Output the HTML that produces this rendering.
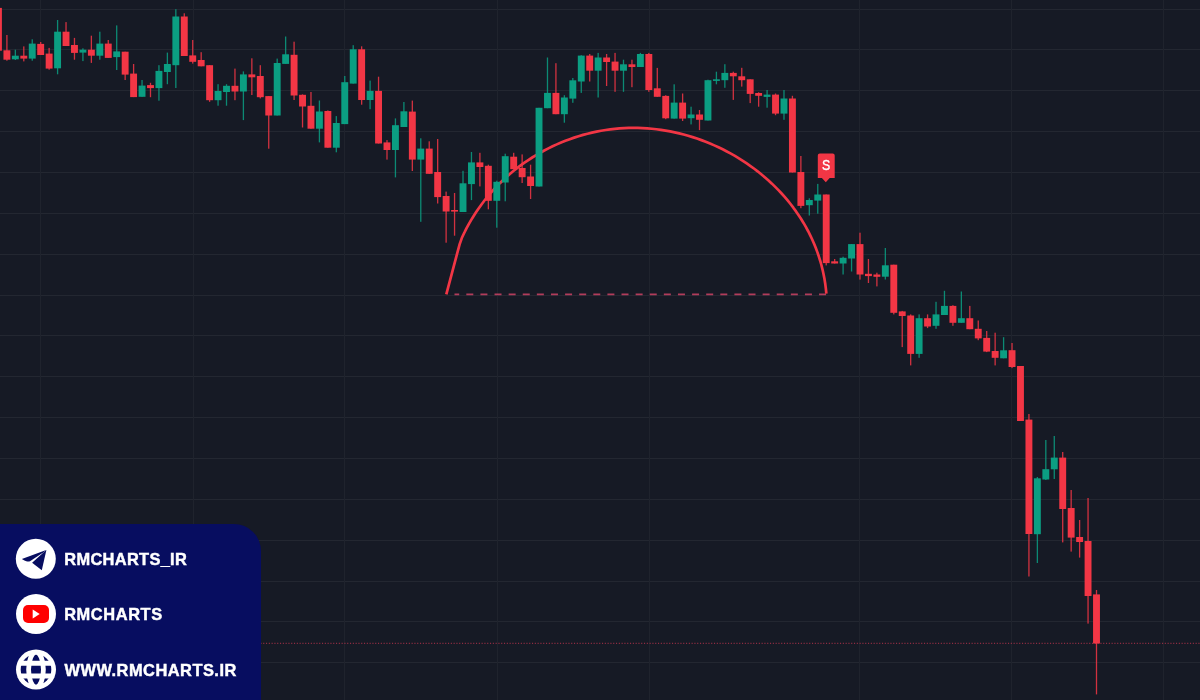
<!DOCTYPE html>
<html><head><meta charset="utf-8"><title>Chart</title>
<style>
html,body{margin:0;padding:0;}
body{width:1200px;height:700px;overflow:hidden;background:#161a25;position:relative;}
.panel{position:absolute;left:0;top:524px;width:260.5px;height:176px;background:#070d60;border-top-right-radius:27px;}
.t{position:absolute;left:65.5px;color:#ffffff;font-family:"Liberation Sans",Arial,sans-serif;font-weight:bold;font-size:16.4px;line-height:1;white-space:nowrap;-webkit-text-stroke:0.45px #ffffff;}
</style></head>
<body>
<svg width="1200" height="700" viewBox="0 0 1200 700" style="position:absolute;left:0;top:0"><g fill="#232731"><rect x="0" y="9" width="1200" height="1"/><rect x="0" y="49" width="1200" height="1"/><rect x="0" y="90" width="1200" height="1"/><rect x="0" y="131" width="1200" height="1"/><rect x="0" y="172" width="1200" height="1"/><rect x="0" y="213" width="1200" height="1"/><rect x="0" y="254" width="1200" height="1"/><rect x="0" y="295" width="1200" height="1"/><rect x="0" y="335" width="1200" height="1"/><rect x="0" y="376" width="1200" height="1"/><rect x="0" y="417" width="1200" height="1"/><rect x="0" y="458" width="1200" height="1"/><rect x="0" y="499" width="1200" height="1"/><rect x="0" y="540" width="1200" height="1"/><rect x="0" y="581" width="1200" height="1"/><rect x="0" y="621" width="1200" height="1"/><rect x="0" y="662" width="1200" height="1"/></g><g fill="#1f232d"><rect x="40" y="0" width="1" height="700"/><rect x="193" y="0" width="1" height="700"/><rect x="344" y="0" width="1" height="700"/><rect x="497" y="0" width="1" height="700"/><rect x="649" y="0" width="1" height="700"/><rect x="859" y="0" width="1" height="700"/><rect x="1011" y="0" width="1" height="700"/><rect x="1163" y="0" width="1" height="700"/></g><line x1="0" y1="643.3" x2="1200" y2="643.3" stroke="#f03c5a" stroke-width="1" stroke-dasharray="1.1 1.7" opacity="0.7"/><line x1="454.5" y1="294.3" x2="827" y2="294.3" stroke="#e6486e" stroke-width="1.7" stroke-dasharray="7 7.11" stroke-dashoffset="2.3" opacity="0.75"/><path d="M446.30 294.30 L459.60 244.30 Q462.00 236.60 464.59 232.06 L466.71 227.94 L468.93 223.87 L471.24 219.87 L473.66 215.92 L476.18 212.03 L478.79 208.21 L481.49 204.45 L484.29 200.76 L487.17 197.15 L490.15 193.60 L493.22 190.14 L496.37 186.74 L499.61 183.43 L502.93 180.21 L506.33 177.06 L509.81 174.00 L513.37 171.03 L517.00 168.14 L520.71 165.35 L524.48 162.64 L528.32 160.03 L532.22 157.50 L536.18 155.07 L540.21 152.74 L544.28 150.50 L548.41 148.36 L552.59 146.32 L556.81 144.38 L561.08 142.54 L565.40 140.80 L569.75 139.17 L574.14 137.64 L578.56 136.21 L583.01 134.90 L587.50 133.69 L592.00 132.59 L596.54 131.61 L601.09 130.73 L605.66 129.97 L610.24 129.33 L614.84 128.80 L619.45 128.38 L624.07 128.09 L628.69 127.91 L633.31 127.85 L637.93 127.91 L642.56 128.08 L647.17 128.36 L651.78 128.75 L656.38 129.26 L660.97 129.87 L665.55 130.59 L670.11 131.42 L674.65 132.36 L679.17 133.40 L683.67 134.54 L688.14 135.79 L692.58 137.14 L696.99 138.59 L701.37 140.14 L705.71 141.78 L710.02 143.53 L714.29 145.37 L718.51 147.30 L722.69 149.32 L726.83 151.44 L730.91 153.65 L734.94 155.95 L738.92 158.34 L742.85 160.82 L746.71 163.38 L750.51 166.03 L754.25 168.76 L757.93 171.57 L761.53 174.47 L765.07 177.44 L768.53 180.50 L771.92 183.64 L775.23 186.85 L778.46 190.14 L781.60 193.50 L784.67 196.93 L787.64 200.44 L790.53 204.02 L793.32 207.67 L796.03 211.39 L798.63 215.18 L801.14 219.03 L803.54 222.95 L805.84 226.94 L808.04 230.98 L810.13 235.09 L812.10 239.26 L813.97 243.49 L815.72 247.78 L817.35 252.13 L818.86 256.53 L820.25 260.99 L821.52 265.50 L822.65 270.07 L823.66 274.68 L824.54 279.35 L825.28 284.07 L825.89 288.83 L826.35 293.64" fill="none" stroke="#f23645" stroke-width="2.7" stroke-linejoin="round"/><g fill="#f23645" opacity="0.85"><rect x="-2.2" y="7.9" width="1.3" height="42.8"/><rect x="6.25" y="35" width="1.3" height="25.7"/><rect x="23.14" y="46.4" width="1.3" height="15"/><rect x="40.04" y="42" width="1.3" height="13"/><rect x="48.48" y="47.9" width="1.3" height="21.8"/><rect x="65.38" y="22.1" width="1.3" height="23.9"/><rect x="73.82" y="37.9" width="1.3" height="21.8"/><rect x="90.72" y="35.7" width="1.3" height="27.2"/><rect x="107.61" y="40" width="1.3" height="17.9"/><rect x="124.5" y="51.7" width="1.3" height="28.3"/><rect x="132.95" y="64" width="1.3" height="33.1"/><rect x="149.84" y="82.8" width="1.3" height="14.4"/><rect x="183.63" y="13.3" width="1.3" height="42.7"/><rect x="192.07" y="40" width="1.3" height="23.6"/><rect x="200.52" y="52.2" width="1.3" height="14.1"/><rect x="208.97" y="65.2" width="1.3" height="36.6"/><rect x="234.31" y="68.6" width="1.3" height="31.6"/><rect x="251.2" y="58.3" width="1.3" height="36.7"/><rect x="259.65" y="65.2" width="1.3" height="33.2"/><rect x="268.09" y="96.1" width="1.3" height="52.6"/><rect x="293.43" y="41.7" width="1.3" height="58.3"/><rect x="301.88" y="94.4" width="1.3" height="33.1"/><rect x="310.32" y="92" width="1.3" height="36.7"/><rect x="327.22" y="110.4" width="1.3" height="37.3"/><rect x="361" y="46.3" width="1.3" height="58.4"/><rect x="377.9" y="76.7" width="1.3" height="66.8"/><rect x="386.34" y="140.1" width="1.3" height="19.5"/><rect x="411.68" y="100.6" width="1.3" height="70.4"/><rect x="428.58" y="141.3" width="1.3" height="32.5"/><rect x="437.02" y="139" width="1.3" height="64.5"/><rect x="445.47" y="191.6" width="1.3" height="51.1"/><rect x="453.91" y="193" width="1.3" height="42.7"/><rect x="479.25" y="152.8" width="1.3" height="33.6"/><rect x="487.7" y="164.7" width="1.3" height="44.6"/><rect x="513.04" y="152.8" width="1.3" height="16.4"/><rect x="521.49" y="154.4" width="1.3" height="28.6"/><rect x="529.93" y="164.7" width="1.3" height="34.3"/><rect x="555.27" y="63.2" width="1.3" height="51"/><rect x="589.06" y="54" width="1.3" height="27.5"/><rect x="605.95" y="54" width="1.3" height="32"/><rect x="614.4" y="52.9" width="1.3" height="38.9"/><rect x="631.29" y="59.7" width="1.3" height="27.5"/><rect x="648.18" y="52.9" width="1.3" height="38.9"/><rect x="656.63" y="67.9" width="1.3" height="28.9"/><rect x="665.08" y="95.2" width="1.3" height="24"/><rect x="681.97" y="93.5" width="1.3" height="27.5"/><rect x="698.86" y="110" width="1.3" height="20.1"/><rect x="732.65" y="71.7" width="1.3" height="28.2"/><rect x="741.1" y="67.8" width="1.3" height="18.8"/><rect x="749.54" y="79.3" width="1.3" height="23.8"/><rect x="757.99" y="92.3" width="1.3" height="14.4"/><rect x="774.88" y="93.5" width="1.3" height="21.7"/><rect x="791.77" y="95.8" width="1.3" height="76.7"/><rect x="800.22" y="156" width="1.3" height="52.2"/><rect x="825.56" y="194.5" width="1.3" height="70.9"/><rect x="834.01" y="259" width="1.3" height="4.5"/><rect x="859.35" y="232.7" width="1.3" height="46.9"/><rect x="867.79" y="259" width="1.3" height="24"/><rect x="876.24" y="272.7" width="1.3" height="13.7"/><rect x="893.13" y="264.7" width="1.3" height="49.7"/><rect x="901.58" y="310.9" width="1.3" height="36.2"/><rect x="910.03" y="314.4" width="1.3" height="51"/><rect x="926.92" y="314.4" width="1.3" height="13.7"/><rect x="952.26" y="305.2" width="1.3" height="20.6"/><rect x="969.15" y="305.9" width="1.3" height="23.3"/><rect x="977.6" y="320.5" width="1.3" height="19.7"/><rect x="986.04" y="331" width="1.3" height="21.1"/><rect x="994.49" y="332.7" width="1.3" height="32.7"/><rect x="1011.38" y="343" width="1.3" height="25.1"/><rect x="1019.83" y="366" width="1.3" height="55"/><rect x="1028.28" y="414" width="1.3" height="162.5"/><rect x="1062.06" y="452" width="1.3" height="90.4"/><rect x="1070.51" y="490" width="1.3" height="61.6"/><rect x="1078.96" y="520" width="1.3" height="37.6"/><rect x="1087.4" y="498" width="1.3" height="125.6"/><rect x="1095.85" y="590" width="1.3" height="104.4"/></g><g fill="#0b9e82" opacity="0.85"><rect x="14.7" y="49.7" width="1.3" height="10.3"/><rect x="31.59" y="39.3" width="1.3" height="21.4"/><rect x="56.93" y="20" width="1.3" height="54.3"/><rect x="82.27" y="48.3" width="1.3" height="12.8"/><rect x="99.16" y="31.7" width="1.3" height="28"/><rect x="116.05" y="25.4" width="1.3" height="44.6"/><rect x="141.39" y="80" width="1.3" height="16.8"/><rect x="158.29" y="65.2" width="1.3" height="35.5"/><rect x="166.73" y="52.6" width="1.3" height="31.6"/><rect x="175.18" y="9.2" width="1.3" height="78.8"/><rect x="217.41" y="84.2" width="1.3" height="21.5"/><rect x="225.86" y="84.2" width="1.3" height="21.5"/><rect x="242.75" y="71.4" width="1.3" height="48.7"/><rect x="276.54" y="58.6" width="1.3" height="56.9"/><rect x="284.98" y="36.5" width="1.3" height="27.4"/><rect x="318.77" y="100.5" width="1.3" height="41.9"/><rect x="335.66" y="116.1" width="1.3" height="36.2"/><rect x="344.11" y="76" width="1.3" height="48.1"/><rect x="352.56" y="45.2" width="1.3" height="38.4"/><rect x="369.45" y="80.6" width="1.3" height="28.6"/><rect x="394.79" y="118.4" width="1.3" height="59"/><rect x="403.24" y="102" width="1.3" height="25"/><rect x="420.13" y="138.3" width="1.3" height="83.5"/><rect x="462.36" y="170.8" width="1.3" height="41.2"/><rect x="470.81" y="152" width="1.3" height="48.1"/><rect x="496.15" y="180.7" width="1.3" height="47"/><rect x="504.59" y="153.7" width="1.3" height="47.6"/><rect x="538.38" y="107.8" width="1.3" height="78.7"/><rect x="546.83" y="57.5" width="1.3" height="50.7"/><rect x="563.72" y="95.2" width="1.3" height="27.5"/><rect x="572.17" y="78" width="1.3" height="24.8"/><rect x="580.61" y="55.2" width="1.3" height="37.7"/><rect x="597.5" y="52.9" width="1.3" height="44.6"/><rect x="622.84" y="59.7" width="1.3" height="32.1"/><rect x="639.74" y="52.9" width="1.3" height="14.1"/><rect x="673.52" y="84.3" width="1.3" height="34.3"/><rect x="690.42" y="106.7" width="1.3" height="17.7"/><rect x="707.31" y="79.7" width="1.3" height="40.8"/><rect x="715.76" y="71.7" width="1.3" height="12.6"/><rect x="724.2" y="64.2" width="1.3" height="23.6"/><rect x="766.44" y="90" width="1.3" height="17.7"/><rect x="783.33" y="90" width="1.3" height="29.8"/><rect x="808.67" y="198.3" width="1.3" height="17.2"/><rect x="817.11" y="183.9" width="1.3" height="29.8"/><rect x="842.45" y="256.7" width="1.3" height="17.8"/><rect x="850.9" y="244.1" width="1.3" height="27.4"/><rect x="884.69" y="248" width="1.3" height="31.5"/><rect x="918.47" y="314.4" width="1.3" height="43.4"/><rect x="935.37" y="301.8" width="1.3" height="27"/><rect x="943.81" y="290.8" width="1.3" height="24.2"/><rect x="960.7" y="291.5" width="1.3" height="31.3"/><rect x="1002.94" y="337.2" width="1.3" height="21.1"/><rect x="1036.72" y="477" width="1.3" height="86"/><rect x="1045.17" y="440" width="1.3" height="40"/><rect x="1053.62" y="436" width="1.3" height="43"/></g><g fill="#f23645"><rect x="-5" y="7.9" width="6.9" height="42.8"/><rect x="3.45" y="50.3" width="6.9" height="9.4"/><rect x="20.34" y="55.7" width="6.9" height="2.9"/><rect x="37.24" y="43.9" width="6.9" height="11.1"/><rect x="45.68" y="53.6" width="6.9" height="15"/><rect x="62.58" y="31.7" width="6.9" height="14.3"/><rect x="71.02" y="45" width="6.9" height="7.9"/><rect x="87.92" y="49.7" width="6.9" height="6"/><rect x="104.81" y="43.6" width="6.9" height="14.3"/><rect x="121.7" y="51.7" width="6.9" height="22.9"/><rect x="130.15" y="73.6" width="6.9" height="23.5"/><rect x="147.04" y="85.1" width="6.9" height="3"/><rect x="180.83" y="16.5" width="6.9" height="39.5"/><rect x="189.27" y="55.4" width="6.9" height="6.4"/><rect x="197.72" y="60" width="6.9" height="6.3"/><rect x="206.17" y="65.2" width="6.9" height="35"/><rect x="231.51" y="85.8" width="6.9" height="5.7"/><rect x="248.4" y="74.4" width="6.9" height="2.9"/><rect x="256.85" y="76" width="6.9" height="21.2"/><rect x="265.29" y="96.1" width="6.9" height="19.4"/><rect x="290.63" y="54.8" width="6.9" height="40.7"/><rect x="299.08" y="94.8" width="6.9" height="11.7"/><rect x="307.52" y="105.8" width="6.9" height="22.9"/><rect x="324.42" y="111" width="6.9" height="36.7"/><rect x="358.2" y="49.3" width="6.9" height="50.7"/><rect x="375.1" y="90.9" width="6.9" height="52.6"/><rect x="383.54" y="142.4" width="6.9" height="7.6"/><rect x="408.88" y="111.6" width="6.9" height="48"/><rect x="425.78" y="148.6" width="6.9" height="25.2"/><rect x="434.22" y="172" width="6.9" height="25.1"/><rect x="442.67" y="196" width="6.9" height="15.5"/><rect x="451.11" y="210" width="6.9" height="1.6"/><rect x="476.45" y="162.4" width="6.9" height="4.6"/><rect x="484.9" y="165.8" width="6.9" height="35"/><rect x="510.24" y="156.7" width="6.9" height="12.5"/><rect x="518.69" y="168" width="6.9" height="9.2"/><rect x="527.13" y="176.5" width="6.9" height="9.5"/><rect x="552.47" y="92.9" width="6.9" height="21.3"/><rect x="586.26" y="55.6" width="6.9" height="15.1"/><rect x="603.15" y="57.5" width="6.9" height="4.5"/><rect x="611.6" y="61.6" width="6.9" height="9.1"/><rect x="628.49" y="64.3" width="6.9" height="2.7"/><rect x="645.38" y="54" width="6.9" height="36"/><rect x="653.83" y="88.3" width="6.9" height="8.5"/><rect x="662.28" y="95.9" width="6.9" height="22.4"/><rect x="679.17" y="102.6" width="6.9" height="16"/><rect x="696.06" y="114.5" width="6.9" height="5.3"/><rect x="729.85" y="72.9" width="6.9" height="3.4"/><rect x="738.3" y="76.3" width="6.9" height="3.9"/><rect x="746.74" y="79.3" width="6.9" height="14.6"/><rect x="755.19" y="93" width="6.9" height="2.8"/><rect x="772.08" y="94.6" width="6.9" height="19"/><rect x="788.97" y="98.5" width="6.9" height="74"/><rect x="797.42" y="172" width="6.9" height="33.9"/><rect x="822.76" y="194.5" width="6.9" height="68.6"/><rect x="831.21" y="261.3" width="6.9" height="2.2"/><rect x="856.55" y="244.1" width="6.9" height="30.4"/><rect x="864.99" y="273.8" width="6.9" height="2.3"/><rect x="873.44" y="274.5" width="6.9" height="2.3"/><rect x="890.33" y="264.7" width="6.9" height="48.1"/><rect x="898.78" y="311.4" width="6.9" height="4.6"/><rect x="907.23" y="315.5" width="6.9" height="38.4"/><rect x="924.12" y="318.2" width="6.9" height="8.3"/><rect x="949.46" y="305.9" width="6.9" height="16.9"/><rect x="966.35" y="318.2" width="6.9" height="11"/><rect x="974.8" y="328.8" width="6.9" height="9.6"/><rect x="983.24" y="337.9" width="6.9" height="13.7"/><rect x="991.69" y="351" width="6.9" height="6.8"/><rect x="1008.58" y="350.2" width="6.9" height="16.8"/><rect x="1017.03" y="366" width="6.9" height="55"/><rect x="1025.48" y="419.6" width="6.9" height="114.4"/><rect x="1059.26" y="457.6" width="6.9" height="51.4"/><rect x="1067.71" y="508" width="6.9" height="29.6"/><rect x="1076.16" y="537" width="6.9" height="5"/><rect x="1084.6" y="541" width="6.9" height="55"/><rect x="1093.05" y="594.4" width="6.9" height="49.1"/></g><g fill="#0b9e82"><rect x="11.9" y="55.7" width="6.9" height="3.6"/><rect x="28.79" y="43.6" width="6.9" height="15"/><rect x="54.13" y="31.7" width="6.9" height="36.6"/><rect x="79.47" y="49.7" width="6.9" height="2.9"/><rect x="96.36" y="43.6" width="6.9" height="12.1"/><rect x="113.25" y="51.4" width="6.9" height="5.7"/><rect x="138.59" y="85.6" width="6.9" height="11.2"/><rect x="155.49" y="70.9" width="6.9" height="17.2"/><rect x="163.93" y="64" width="6.9" height="8"/><rect x="172.38" y="16.5" width="6.9" height="48.7"/><rect x="214.61" y="91" width="6.9" height="9.2"/><rect x="223.06" y="85.8" width="6.9" height="6.2"/><rect x="239.95" y="74.4" width="6.9" height="17.1"/><rect x="273.74" y="63" width="6.9" height="52.5"/><rect x="282.18" y="54.3" width="6.9" height="9.6"/><rect x="315.97" y="111.5" width="6.9" height="17.2"/><rect x="332.86" y="123" width="6.9" height="24.7"/><rect x="341.31" y="82.2" width="6.9" height="41.9"/><rect x="349.76" y="49.3" width="6.9" height="34.3"/><rect x="366.65" y="90.9" width="6.9" height="9.1"/><rect x="391.99" y="125.2" width="6.9" height="24.8"/><rect x="400.44" y="111.3" width="6.9" height="15.7"/><rect x="417.33" y="148.6" width="6.9" height="11"/><rect x="459.56" y="183.3" width="6.9" height="28.7"/><rect x="468.01" y="162.4" width="6.9" height="21.7"/><rect x="493.35" y="181.8" width="6.9" height="19"/><rect x="501.79" y="156.2" width="6.9" height="26.3"/><rect x="535.58" y="107.8" width="6.9" height="78.7"/><rect x="544.03" y="92.9" width="6.9" height="15.3"/><rect x="560.92" y="97.5" width="6.9" height="16.7"/><rect x="569.37" y="80.3" width="6.9" height="18.3"/><rect x="577.81" y="55.6" width="6.9" height="25.9"/><rect x="594.7" y="57.5" width="6.9" height="13.2"/><rect x="620.04" y="64.3" width="6.9" height="6.4"/><rect x="636.94" y="54" width="6.9" height="13"/><rect x="670.72" y="102.6" width="6.9" height="16"/><rect x="687.62" y="114.5" width="6.9" height="3.7"/><rect x="704.51" y="80.2" width="6.9" height="40.3"/><rect x="712.96" y="79.3" width="6.9" height="1.6"/><rect x="721.4" y="72.9" width="6.9" height="7.3"/><rect x="763.63" y="94.6" width="6.9" height="2.3"/><rect x="780.53" y="98.5" width="6.9" height="15.1"/><rect x="805.87" y="200" width="6.9" height="5.2"/><rect x="814.31" y="194.5" width="6.9" height="6.1"/><rect x="839.65" y="257.8" width="6.9" height="5.7"/><rect x="848.1" y="244.1" width="6.9" height="14.4"/><rect x="881.89" y="265.3" width="6.9" height="11.4"/><rect x="915.67" y="318.2" width="6.9" height="35.7"/><rect x="932.56" y="314.4" width="6.9" height="11.4"/><rect x="941.01" y="305.9" width="6.9" height="9.1"/><rect x="957.9" y="318.2" width="6.9" height="4.6"/><rect x="1000.14" y="350.3" width="6.9" height="8"/><rect x="1033.92" y="478.3" width="6.9" height="55.9"/><rect x="1042.37" y="469.2" width="6.9" height="10.3"/><rect x="1050.82" y="457.6" width="6.9" height="11.7"/></g><path d="M819.8 153.6 H832.7 Q834.7 153.6 834.7 155.6 V178 H829.7 L825.8 182.3 L821.9 178 H817.8 V155.6 Q817.8 153.6 819.8 153.6 Z" fill="#f23645"/><text x="0" y="0" transform="translate(826.2 170.2) scale(0.8 1)" text-anchor="middle" font-family="Liberation Sans, sans-serif" font-size="15.4" stroke="#ffffff" stroke-width="0.35" fill="#ffffff">S</text></svg>
<div class="panel">

<svg width="260" height="176" viewBox="0 0 260 176" style="position:absolute;left:0;top:0">
  <g transform="translate(35.8 34.8)">
    <circle r="20" fill="#ffffff"/>
    <path d="M-13.94 0.2 L10.4 -8.9 L7.8 -6.6 L-5.8 2.55 Q-7.6 3.1 -9.5 2.4 L-11.37 1.7 Z" fill="#070d60"/>
    <path d="M-3.66 4.05 L8.2 -6.9 L10.6 -8.9 L5.98 11.42 Z" fill="#070d60"/>
  </g>
  <g transform="translate(36 90)">
    <circle r="20" fill="#ffffff"/>
    <rect x="-13" y="-9" width="26" height="18" rx="5" fill="#ff0000"/>
    <path d="M-3.3 -4.5 L3.7 0 L-3.3 4.5 Z" fill="#ffffff"/>
  </g>
  <g transform="translate(36 145.6)">
    <circle r="20" fill="#ffffff"/>
    <clipPath id="gc"><circle r="17"/></clipPath>
    <circle r="15.3" fill="#070d60"/>
    <g clip-path="url(#gc)" stroke="#ffffff" fill="none">
      <ellipse rx="7.4" ry="17.5" stroke-width="4.8"/>
      <line x1="-20" y1="-6.3" x2="20" y2="-6.3" stroke-width="5"/>
      <line x1="-20" y1="6.3" x2="20" y2="6.3" stroke-width="5"/>
    </g>
  </g>
</svg>
<div class="t" id="t1" style="top:27.3px;left:64.3px;letter-spacing:0.32px">RMCHARTS_IR</div>
<div class="t" id="t2" style="top:82.1px;left:64.2px;letter-spacing:0.59px">RMCHARTS</div>
<div class="t" id="t3" style="top:138px;left:64.5px;letter-spacing:0.5px">WWW.RMCHARTS.IR</div>
</div>
</body></html>
